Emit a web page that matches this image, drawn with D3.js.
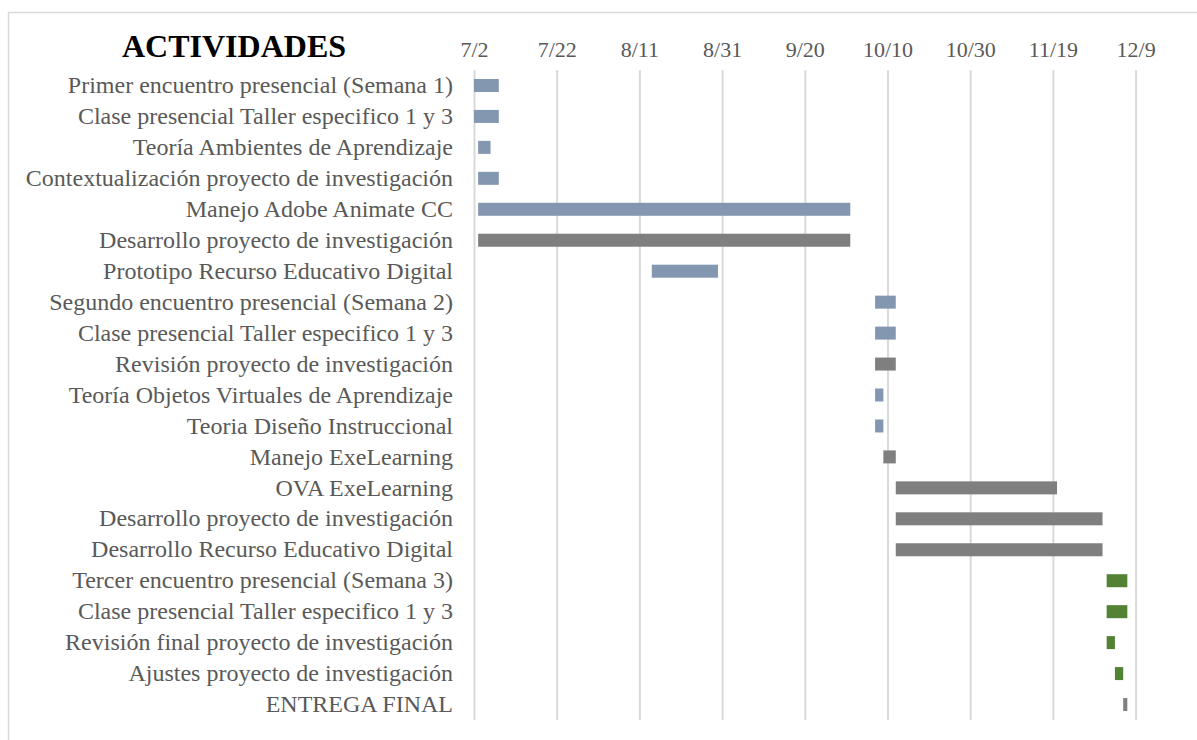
<!DOCTYPE html>
<html>
<head>
<meta charset="utf-8">
<script src="https://cdn.jsdelivr.net/npm/d3@7"></script>
<style>
  body { margin: 0; background: #fff; }
  svg { display: block; }
</style>
</head>
<body>
<script>
// activities (top to bottom)
var actividades = [
  "Primer encuentro presencial (Semana 1)",
  "Clase presencial Taller especifico 1 y 3",
  "Teoría Ambientes de Aprendizaje",
  "Contextualización proyecto de investigación",
  "Manejo Adobe Animate CC",
  "Desarrollo proyecto de investigación",
  "Prototipo Recurso Educativo Digital",
  "Segundo encuentro presencial (Semana 2)",
  "Clase presencial Taller especifico 1 y 3",
  "Revisión proyecto de investigación",
  "Teoría Objetos Virtuales de Aprendizaje",
  "Teoria Diseño Instruccional",
  "Manejo ExeLearning",
  "OVA ExeLearning",
  "Desarrollo proyecto de investigación",
  "Desarrollo Recurso Educativo Digital",
  "Tercer encuentro presencial (Semana 3)",
  "Clase presencial Taller especifico 1 y 3",
  "Revisión final proyecto de investigación",
  "Ajustes proyecto de investigación",
  "ENTREGA FINAL"
];

var inicio = [
  "7/2", "7/2", "7/3", "7/3", "7/3", "7/3", "8/14",
  "10/7", "10/7", "10/7", "10/7", "10/7", "10/9",
  "10/12", "10/12", "10/12",
  "12/2", "12/2", "12/2", "12/4", "12/6"
];

var fin = [
  "7/8", "7/8", "7/6", "7/8", "10/1", "10/1", "8/30",
  "10/12", "10/12", "10/12", "10/9", "10/9", "10/12",
  "11/20", "12/1", "12/1",
  "12/7", "12/7", "12/4", "12/6", "12/7"
];

// group of each activity
var grupo = [
  "clase", "clase", "clase", "clase", "clase", "proyecto", "clase",
  "clase", "clase", "proyecto", "clase", "clase", "proyecto",
  "proyecto", "proyecto", "proyecto",
  "cierre", "cierre", "cierre", "cierre", "proyecto"
];

var tickLabels = ["7/2", "7/22", "8/11", "8/31", "9/20", "10/10", "10/30", "11/19", "12/9"];

var anio = 2019;
var parseDate = function(s) { return d3.utcParse("%m/%d/%Y")(s + "/" + anio); };

var data = actividades.map(function(a, i) {
  return { i: i, name: a, start: parseDate(inicio[i]), end: parseDate(fin[i]), grupo: grupo[i] };
});

var W = 1197, H = 740;
var font = "'Liberation Serif', 'Times New Roman', serif";

var svg = d3.select("body").append("svg")
    .attr("width", W)
    .attr("height", H);

// outer frame
svg.append("rect")
    .attr("x", 8.5).attr("y", 12.5)
    .attr("width", W + 10).attr("height", H + 10)
    .attr("fill", "none")
    .attr("stroke", "#d9d9d9")
    .attr("stroke-width", 1.5);

var x = d3.scaleUtc()
    .domain([parseDate(tickLabels[0]), parseDate(tickLabels[tickLabels.length - 1])])
    .range([474, 1135.6]);

var y = d3.scaleBand()
    .domain(data.map(function(d) { return d.i; }))
    .range([70, 720])
    .paddingInner(0.58)
    .paddingOuter(0.29);

var color = d3.scaleOrdinal()
    .domain(["clase", "proyecto", "cierre"])
    .range(["#8497b0", "#7f7f7f", "#548235"]);

// gridlines + top tick labels
var xAxis = d3.axisTop(x)
    .tickValues(tickLabels.map(parseDate))
    .tickFormat(d3.utcFormat("%-m/%-d"))
    .tickSize(-(720 - 70))
    .tickPadding(13);

var gx = svg.append("g")
    .attr("transform", "translate(0,70)")
    .call(xAxis);
gx.select(".domain").remove();
gx.selectAll(".tick line")
    .attr("stroke", "#d9d9d9")
    .attr("stroke-width", 2);
gx.selectAll(".tick text")
    .attr("fill", "#595959")
    .attr("font-family", font)
    .attr("font-size", 22);

// activity labels
var gy = svg.append("g")
    .attr("transform", "translate(453,0)")
    .call(d3.axisLeft(y).tickSize(0).tickPadding(0)
      .tickFormat(function(i) { return actividades[i]; }));
gy.select(".domain").remove();
gy.selectAll(".tick text")
    .attr("fill", "#595959")
    .attr("font-family", font)
    .attr("font-size", 24);

// bars
svg.append("g")
  .selectAll("rect")
  .data(data)
  .enter().append("rect")
    .attr("x", function(d) { return x(d.start); })
    .attr("y", function(d) { return y(d.i); })
    .attr("width", function(d) { return x(d.end) - x(d.start); })
    .attr("height", y.bandwidth())
    .attr("fill", function(d) { return color(d.grupo); });

// title
svg.append("text")
    .attr("x", 234)
    .attr("y", 57)
    .attr("text-anchor", "middle")
    .attr("font-family", font)
    .attr("font-weight", "bold")
    .attr("font-size", 32)
    .attr("fill", "#000")
    .text("ACTIVIDADES");
</script>
</body>
</html>
